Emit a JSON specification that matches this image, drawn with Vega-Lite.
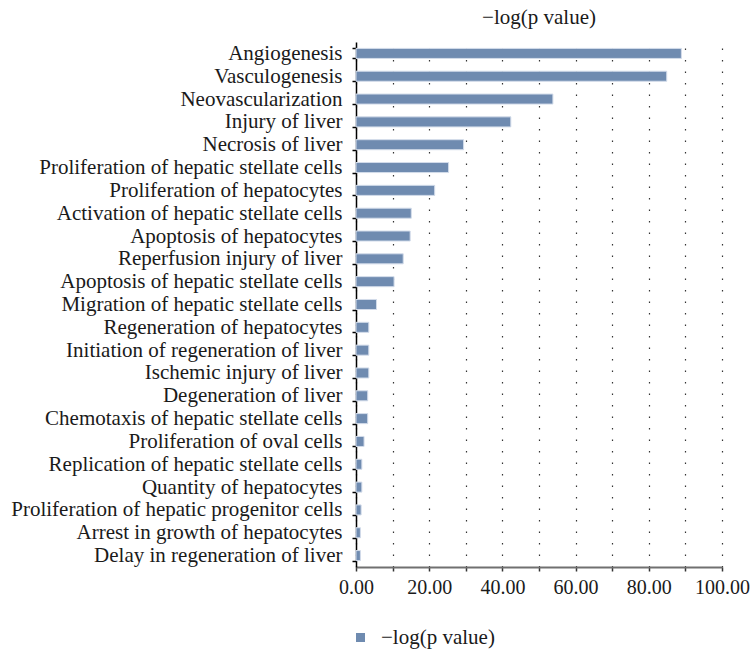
{
  "$schema": "https://vega.github.io/schema/vega-lite/v6.json",
  "width": 366,
  "height": 525,
  "autosize": "none",
  "padding": {"left": 356, "top": 42, "right": 28, "bottom": 82},
  "background": "white",
  "config": {"view": {"stroke": null}, "font": "Liberation Serif"},
  "title": {"text": "−log(p value)", "fontSize": 21, "font": "Liberation Serif", "fontWeight": "normal", "color": "#1a1a1a", "offset": 3, "anchor": "middle"},
  "data": {"values": [
    {"term": "Angiogenesis", "value": 88.9, "series": "−log(p value)"},
    {"term": "Vasculogenesis", "value": 84.9, "series": "−log(p value)"},
    {"term": "Neovascularization", "value": 53.8, "series": "−log(p value)"},
    {"term": "Injury of liver", "value": 42.3, "series": "−log(p value)"},
    {"term": "Necrosis of liver", "value": 29.4, "series": "−log(p value)"},
    {"term": "Proliferation of hepatic stellate cells", "value": 25.3, "series": "−log(p value)"},
    {"term": "Proliferation of hepatocytes", "value": 21.5, "series": "−log(p value)"},
    {"term": "Activation of hepatic stellate cells", "value": 15.1, "series": "−log(p value)"},
    {"term": "Apoptosis of hepatocytes", "value": 14.8, "series": "−log(p value)"},
    {"term": "Reperfusion injury of liver", "value": 12.9, "series": "−log(p value)"},
    {"term": "Apoptosis of hepatic stellate cells", "value": 10.4, "series": "−log(p value)"},
    {"term": "Migration of hepatic stellate cells", "value": 5.6, "series": "−log(p value)"},
    {"term": "Regeneration of hepatocytes", "value": 3.5, "series": "−log(p value)"},
    {"term": "Initiation of regeneration of liver", "value": 3.5, "series": "−log(p value)"},
    {"term": "Ischemic injury of liver", "value": 3.5, "series": "−log(p value)"},
    {"term": "Degeneration of liver", "value": 3.2, "series": "−log(p value)"},
    {"term": "Chemotaxis of hepatic stellate cells", "value": 3.2, "series": "−log(p value)"},
    {"term": "Proliferation of oval cells", "value": 2.2, "series": "−log(p value)"},
    {"term": "Replication of hepatic stellate cells", "value": 1.6, "series": "−log(p value)"},
    {"term": "Quantity of hepatocytes", "value": 1.6, "series": "−log(p value)"},
    {"term": "Proliferation of hepatic progenitor cells", "value": 1.4, "series": "−log(p value)"},
    {"term": "Arrest in growth of hepatocytes", "value": 1.2, "series": "−log(p value)"},
    {"term": "Delay in regeneration of liver", "value": 1.2, "series": "−log(p value)"}
  ]},
  "mark": {"type": "bar", "stroke": "#d3dcea", "strokeWidth": 1},
  "encoding": {
    "y": {
      "field": "term", "type": "nominal", "sort": null,
      "scale": {"paddingInner": 0.56, "paddingOuter": 0.28},
      "axis": {
        "title": null, "grid": false, "tickBand": "extent",
        "domainColor": "#000000", "domainWidth": 1.5,
        "tickColor": "#000000", "tickSize": 4, "tickWidth": 1.5,
        "labelFontSize": 21, "labelColor": "#1a1a1a", "labelPadding": 10, "labelLimit": 400,
        "labelFont": "Liberation Serif"
      }
    },
    "x": {
      "field": "value", "type": "quantitative",
      "scale": {"domain": [0, 100]},
      "axis": {
        "title": null,
        "values": [0, 10, 20, 30, 40, 50, 60, 70, 80, 90, 100],
        "labelExpr": "datum.value % 20 == 0 ? format(datum.value, '.2f') : ''",
        "grid": true, "gridDash": [1.5, 10], "gridColor": "#333333", "gridWidth": 1.2,
        "domainColor": "#707070", "domainWidth": 2,
        "tickColor": "#333333", "tickSize": 4, "tickWidth": 1.5,
        "labelFontSize": 20, "labelColor": "#1a1a1a", "labelPadding": 6,
        "labelFont": "Liberation Serif", "labelFlush": false, "labelOverlap": false
      }
    },
    "color": {
      "field": "series", "type": "nominal",
      "scale": {"range": ["#6f8bb0"]},
      "legend": {
        "title": null, "orient": "none", "legendX": -6, "legendY": 585,
        "symbolType": "square", "symbolSize": 81, "symbolStrokeWidth": 0,
        "labelFontSize": 21, "labelColor": "#1a1a1a", "labelFont": "Liberation Serif",
        "labelOffset": 10, "padding": 0
      }
    }
  }
}
